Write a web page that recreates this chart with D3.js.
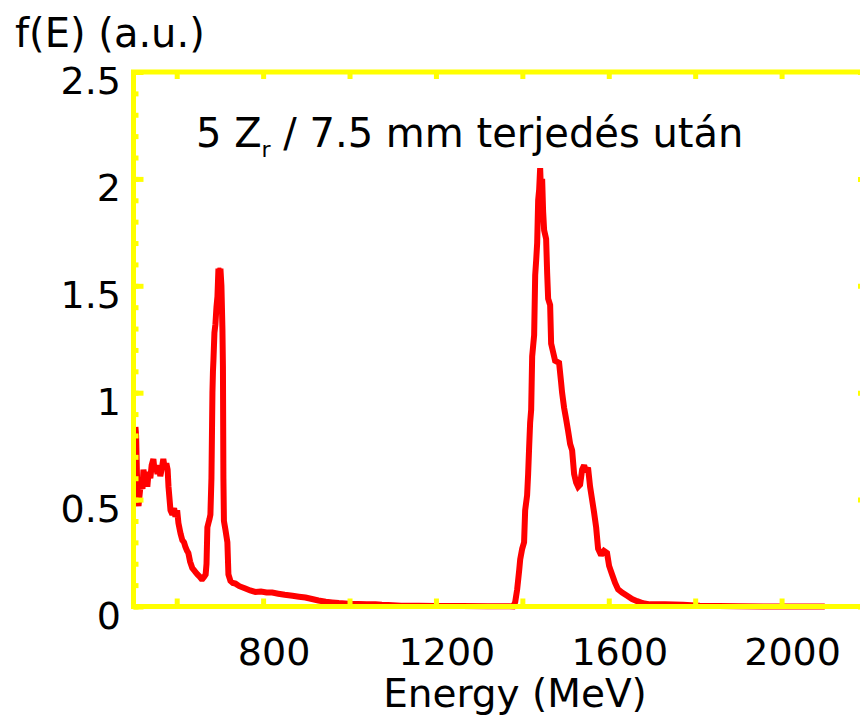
<!DOCTYPE html>
<html lang="hu">
<head>
  <meta charset="utf-8">
  <title>f(E) spektrum</title>
  <script src="https://cdn.jsdelivr.net/npm/d3@7"></script>
  <style>
    body { margin: 0; background: #fff; }
    text { font-family: "Comic Sans MS", "DejaVu Sans", sans-serif; fill: #000; }
  </style>
</head>
<body>
  <div class="chart"></div>

  <script>
    var w = 860,
      h = 720;

    // spectrum: energy (MeV) and f(E) (a.u.)
    var energy = [
      504.5, 506, 508, 509.5, 511.6, 514, 517, 520.8, 523, 526, 529, 532, 535, 539, 542, 546,
      549, 552, 555.5, 559, 562, 565, 569, 572, 576, 579, 581, 583.5, 585.6, 590, 594, 597,
      601, 604, 607, 609, 613, 617, 620, 624, 627, 631, 636, 640, 644, 648, 653, 657,
      660, 664, 667, 669, 671, 673.4, 676, 678, 680.4, 682.7, 683.9, 685, 687.3, 689.6, 692, 694.3,
      696.6, 699, 701.2, 703.5, 705.8, 707, 708.1, 709.3, 712.7, 717.3, 719.7, 724.3, 730, 736,
      745, 759, 770, 782, 795, 808, 821, 835, 850, 868, 883, 898, 913, 928,
      945, 960, 975, 990, 1005, 1020, 1040, 1060, 1075, 1090, 1120, 1160, 1200, 1260, 1320, 1370,
      1378.8, 1383.4, 1388, 1392.7, 1395, 1399.6, 1404, 1406.5, 1411, 1413.4, 1415.8, 1418, 1420.4, 1422.7,
      1425, 1427.3, 1429.7, 1432, 1434.3, 1436.6, 1438.9, 1441.2, 1443.5, 1445.8, 1448, 1450.4, 1455, 1457.4,
      1459.7, 1464.3, 1466.6, 1471.2, 1475.8, 1485, 1489.6, 1492, 1496.6, 1501, 1506, 1510.6, 1515.2, 1519.8,
      1524.5, 1529, 1533.7, 1538.3, 1543, 1547.5, 1552, 1556.8, 1561.4, 1566, 1570.8, 1575.3, 1582.3, 1589,
      1596, 1600.8, 1607.7, 1614.7, 1621.6, 1630.9, 1642.5, 1654, 1665.6, 1679.5, 1695.7, 1730, 1772, 1811,
      1900, 2000, 2100
    ];
    var fE = [
      0.84, 0.80, 0.62, 0.50, 0.47, 0.52, 0.58, 0.55, 0.64, 0.60, 0.62, 0.56, 0.63, 0.60, 0.66, 0.69,
      0.63, 0.66, 0.62, 0.66, 0.61, 0.64, 0.69, 0.65, 0.67, 0.64, 0.56, 0.50, 0.45, 0.43, 0.46, 0.42,
      0.45, 0.39, 0.36, 0.34, 0.31, 0.30, 0.28, 0.26, 0.25, 0.21, 0.18, 0.17, 0.16, 0.15, 0.14, 0.13,
      0.13, 0.14, 0.15, 0.20, 0.37, 0.39, 0.41, 0.43, 0.60, 1.00, 1.10, 1.15, 1.28, 1.32, 1.40, 1.45,
      1.58, 1.57, 1.58, 1.50, 1.30, 1.12, 0.60, 0.40, 0.36, 0.30, 0.15, 0.12, 0.11, 0.107,
      0.095, 0.084, 0.075, 0.068, 0.07, 0.066, 0.065, 0.06, 0.055, 0.05, 0.046, 0.042, 0.035, 0.028,
      0.022, 0.019, 0.016, 0.014, 0.012, 0.012, 0.010, 0.010, 0.008, 0.007, 0.004, 0.003, 0.002, 0.002, 0.001, 0.001,
      0, 0.02, 0.08, 0.17, 0.22, 0.27, 0.30, 0.45, 0.52, 0.62, 0.75, 0.86, 0.92, 1.17,
      1.22, 1.27, 1.55, 1.62, 1.70, 1.90, 1.95, 2.05, 1.92, 2.00, 1.85, 1.76, 1.72, 1.56,
      1.44, 1.41, 1.23, 1.19, 1.15, 1.14, 1.05, 1.00, 0.93, 0.88, 0.82, 0.76, 0.73, 0.62,
      0.58, 0.56, 0.57, 0.64, 0.66, 0.63, 0.65, 0.56, 0.50, 0.44, 0.37, 0.27, 0.24, 0.26,
      0.25, 0.19, 0.15, 0.11, 0.08, 0.065, 0.05, 0.035, 0.025, 0.015, 0.01, 0.01, 0.008, 0.003,
      0.001, 0, 0
    ];

    var xTicks = [600, 800, 1000, 1200, 1400, 1600, 1800, 2000];
    var xLabels = [800, 1200, 1600, 2000];
    var yMinor = d3.range(0, 26).map(function(i) { return i / 10; });
    var yMajor = [0, 0.5, 1, 1.5, 2, 2.5];
    var yLabels = ["0", "0.5", "1", "1.5", "2", "2.5"];

    var yellow = "#ffff00",
      red = "#ff0000";

    var x = d3.scaleLinear().domain([500, 2200]).range([133.5, 868]);
    var y = d3.scaleLinear().domain([0, 2.5]).range([606.5, 72]);

    var svg = d3.select(".chart")
      .append("svg")
      .attr("width", w)
      .attr("height", h);

    svg.append("rect").attr("width", w).attr("height", h).attr("fill", "#fff");

    // curve
    var pts = energy.map(function(e, i) { return [e, fE[i]]; });
    var line = d3.line()
      .x(function(d) { return x(d[0]); })
      .y(function(d) { return y(d[1]); });

    svg.append("path")
      .datum(pts)
      .attr("d", line)
      .attr("fill", "none")
      .attr("stroke", red)
      .attr("stroke-width", 6)
      .attr("stroke-linejoin", "miter")
      .attr("stroke-miterlimit", 2);

    // frame with inward ticks on every side
    var frame = svg.append("g");
    function styleAxis(g) {
      g.select(".domain").remove();
      g.selectAll("text").remove();
      g.selectAll("line").attr("stroke", yellow).attr("stroke-width", 5);
    }
    frame.append("g").attr("transform", "translate(0," + y(0) + ")")
      .call(d3.axisBottom(x).tickValues(xTicks).tickSize(-8)).call(styleAxis);
    frame.append("g").attr("transform", "translate(0," + y(2.5) + ")")
      .call(d3.axisTop(x).tickValues(xTicks).tickSize(-7)).call(styleAxis);
    frame.append("g").attr("transform", "translate(" + x(500) + ",0)")
      .call(d3.axisLeft(y).tickValues(yMinor).tickSize(-5)).call(styleAxis);
    frame.append("g").attr("transform", "translate(" + x(500) + ",0)")
      .call(d3.axisLeft(y).tickValues(yMajor).tickSize(-10)).call(styleAxis);
    frame.append("g").attr("transform", "translate(" + x(2200) + ",0)")
      .call(d3.axisRight(y).tickValues(yMinor).tickSize(-5)).call(styleAxis);
    frame.append("g").attr("transform", "translate(" + x(2200) + ",0)")
      .call(d3.axisRight(y).tickValues(yMajor).tickSize(-10)).call(styleAxis);

    frame.append("rect")
      .attr("x", x(500)).attr("y", y(2.5))
      .attr("width", x(2200) - x(500)).attr("height", y(0) - y(2.5))
      .attr("fill", "none")
      .attr("stroke", yellow)
      .attr("stroke-width", 5);

    // tick labels
    svg.selectAll(".ylab")
      .data(yMajor)
      .enter().append("text")
      .attr("x", 121)
      .attr("y", function(d) { return y(d) + 22; })
      .attr("text-anchor", "end")
      .style("font-size", "38px")
      .text(function(d, i) { return yLabels[i]; });

    svg.selectAll(".xlab")
      .data(xLabels)
      .enter().append("text")
      .attr("x", function(d) { return x(d) + 11; })
      .attr("y", 665)
      .attr("text-anchor", "middle")
      .style("font-size", "38px")
      .text(function(d) { return d; });

    // axis titles
    svg.append("text")
      .attr("x", 15).attr("y", 47)
      .style("font-size", "40px")
      .text("f(E) (a.u.)");

    svg.append("text")
      .attr("x", 515).attr("y", 707)
      .attr("text-anchor", "middle")
      .style("font-size", "39px")
      .text("Energy (MeV)");

    // annotation
    var note = svg.append("text")
      .attr("x", 196).attr("y", 147)
      .style("font-size", "40px");
    note.append("tspan").text("5 Z");
    note.append("tspan").attr("dy", 10).style("font-size", "22px").text("r");
    note.append("tspan").attr("dy", -10).text(" / 7.5 mm terjedés után");
  </script>
</body>
</html>
